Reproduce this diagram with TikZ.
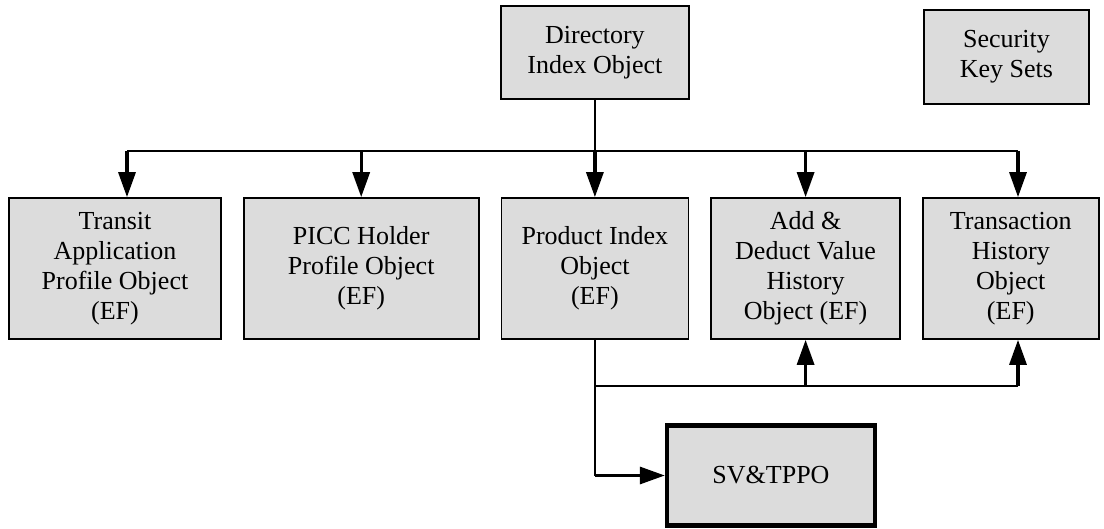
\documentclass[tikz,border=0pt]{standalone}
\usepackage{fontspec}
\setmainfont{Liberation Serif}
\usetikzlibrary{positioning, arrows.meta}
\definecolor{boxgray}{RGB}{220,220,220}
\begin{document}
\begin{tikzpicture}[x=0.5pt, y=-0.5pt,
			obj/.style={rectangle, draw, fill=boxgray, line width=0.85pt, align=center, inner sep=2pt, minimum height=70.5pt, font=\fontsize{13}{15}\selectfont},
			topobj/.style={obj, minimum height=46.5pt},
			bus/.style={line width=0.75pt},
			feed/.style={line width=1.6pt, -{Triangle[length=12.5pt, width=8.5pt]}},
			]
			\useasboundingbox (0,0) rectangle (1104,529);
			% second row of objects
			\node[obj, minimum width=106pt] (tap) at (115,268.5) {Transit\\Application\\Profile Object\\(EF)};
			\node[obj, minimum width=117.5pt, right=10.5pt of tap] (pho) {PICC Holder\\Profile Object\\(EF)};
			\node[obj, minimum width=93.5pt, right=10.5pt of pho] (pio) {Product Index\\Object\\(EF)};
			\node[obj, minimum width=94.5pt, right=10.5pt of pio] (adv) {Add \&\\Deduct Value\\History\\Object (EF)};
			\node[obj, minimum width=88pt, right=10.5pt of adv] (thi) {Transaction\\History\\Object\\(EF)};
			% top row
			\node[topobj, minimum width=94pt, above=48.5pt of pio] (dio) {Directory\\Index Object};
			\node[topobj, minimum width=82.5pt, minimum height=47pt] (sks) at (1006.5,57) {Security\\Key Sets};
			\node[obj, line width=2.2pt, minimum width=104pt, minimum height=50pt] (sv) at (771,475.5) {SV\&TPPO};
			
			\coordinate (busl) at (127,151);
			\coordinate (busr) at (1018,151);
			\coordinate (low) at (1018,386);
			
			\draw[bus] (dio.south) -- (dio.south |- busl);
			\draw[bus] (busl) -- (busr);
			\draw[feed] (busl) -- (busl |- tap.north);
			\draw[feed] (busl -| pho.north) -- (pho.north);
			\draw[feed] (busl -| pio.north) -- (pio.north);
			\draw[feed] (busl -| adv.north) -- (adv.north);
			\draw[feed] (busr) -- (busr |- thi.north);
			
			\draw[bus] (pio.south) -- (pio.south |- sv.west);
			\draw[feed] (pio.south |- sv.west) -- (sv.west);
			\draw[bus] (pio.south |- low) -- (low);
			\draw[feed] (adv.south |- low) -- (adv.south);
			\draw[feed] (low) -- (low |- thi.south);
\end{tikzpicture}
\end{document}
